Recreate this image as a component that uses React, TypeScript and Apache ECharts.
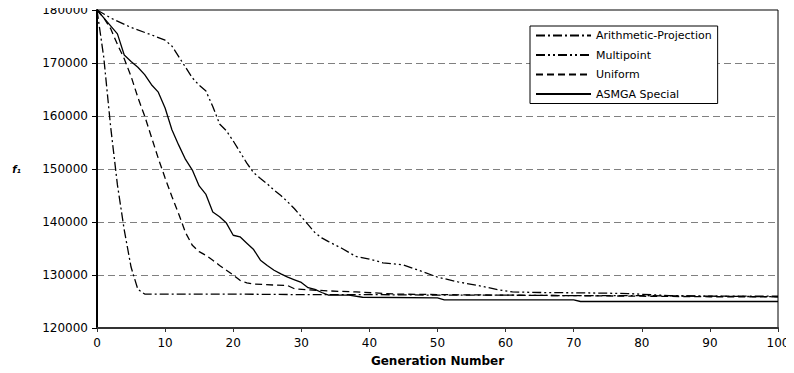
import React, { useEffect, useRef } from "react";
import * as echarts from "echarts";

const seriesNames = ["Arithmetic-Projection", "Multipoint", "Uniform", "ASMGA Special"];

const xTicks = { min: 0, max: 100, interval: 10 };
const yTicks = { min: 120000, max: 180000, interval: 10000 };

const arithmeticProjection: [number, number][] = [
  [0, 180000], [1, 171000], [2, 158000], [3, 147000], [4, 138500], [5, 131500],
  [6, 127300], [7, 126400], [10, 126400], [20, 126400], [30, 126300], [40, 126300],
  [50, 126200], [60, 126200], [70, 126100], [80, 126100], [90, 126000], [100, 126000],
];

const multipoint: [number, number][] = [
  [0, 180000], [2, 178500], [5, 176700], [8, 175300], [10, 174300], [11, 173200],
  [12, 171200], [13, 169200], [14, 167200], [15, 165800], [16, 164700], [17, 161800],
  [18, 158500], [19, 157200], [20, 155300], [21, 153200], [22, 151100], [23, 149300],
  [24, 148200], [25, 147200], [26, 146000], [27, 145000], [28, 143800], [29, 142500],
  [30, 141000], [31, 139500], [32, 138000], [33, 137000], [34, 136300], [36, 135000],
  [38, 133500], [40, 133000], [42, 132300], [45, 131900], [47, 131000], [50, 129600],
  [53, 128700], [56, 128000], [59, 127200], [61, 126800], [65, 126700], [73, 126600],
  [78, 126500], [84, 126100], [90, 126000], [100, 125900],
];

const uniform: [number, number][] = [
  [0, 180000], [1, 178500], [2, 176500], [3, 173500], [4, 170800], [5, 167500],
  [6, 163500], [7, 160000], [8, 156000], [9, 152000], [10, 148300], [11, 144800],
  [12, 141500], [13, 138000], [14, 135600], [15, 134400], [16, 133700], [17, 132800],
  [18, 131800], [19, 130900], [20, 130000], [21, 129000], [22, 128500], [23, 128300],
  [26, 128100], [28, 128000], [29, 127400], [31, 127200], [34, 127000], [38, 126800],
  [44, 126400], [50, 126300], [60, 126200], [70, 126100], [80, 126000], [90, 125900],
  [100, 125900],
];

const asmgaSpecial: [number, number][] = [
  [0, 180000], [1, 178500], [2, 177000], [3, 175500], [4, 171500], [5, 170300],
  [6, 169200], [7, 167800], [8, 165900], [9, 164500], [10, 161500], [11, 157400],
  [12, 154500], [13, 151800], [14, 149800], [15, 146800], [16, 145200], [17, 141900],
  [18, 141000], [19, 139800], [20, 137500], [21, 137200], [22, 136000], [23, 134800],
  [24, 132800], [25, 131800], [26, 130900], [27, 130200], [28, 129600], [29, 129100],
  [30, 128600], [31, 127600], [32, 127300], [33, 126700], [34, 126200], [37, 126200],
  [39, 125800], [50, 125700], [51, 125300], [70, 125300], [71, 125000], [100, 125000],
];

const seriesData = [arithmeticProjection, multipoint, uniform, asmgaSpecial];
const dashTypes: any[] = [[9, 3, 2, 3], [9, 3, 2, 3, 2, 3], [7, 4], "solid"];

const FONT = "DejaVu Sans";

export default function App() {
  const ref = useRef<HTMLDivElement>(null);
  useEffect(() => {
    if (!ref.current) return;
    const chart = echarts.init(ref.current, null, { renderer: "svg" });
    chart.setOption({
      animation: false,
      backgroundColor: "#fff",
      grid: {
        left: 97, right: 16, top: 10, bottom: 45,
        show: true, borderColor: "#000", borderWidth: 1,
        backgroundColor: "transparent",
      },
      legend: {
        orient: "vertical",
        left: 530, top: 26,
        data: seriesNames,
        itemWidth: 55, itemHeight: 10, itemGap: 8.5,
        padding: [4, 6, 4, 5],
        borderColor: "#000", borderWidth: 1,
        backgroundColor: "#fff",
        itemStyle: { opacity: 0 },
        textStyle: { fontFamily: FONT, fontSize: 11, color: "#000" },
      },
      xAxis: {
        type: "value",
        min: xTicks.min, max: xTicks.max, interval: xTicks.interval,
        name: "Generation Number",
        nameLocation: "middle", nameGap: 27,
        nameTextStyle: { fontFamily: FONT, fontSize: 12, fontWeight: "bold", color: "#000" },
        axisLine: { show: true, onZero: false, lineStyle: { color: "#333", width: 2 } },
        axisTick: { show: true, length: 4, lineStyle: { color: "#333" } },
        axisLabel: { fontFamily: FONT, fontSize: 12, color: "#000", margin: 9, formatter: (v: number) => String(v) },
        splitLine: { show: false },
      },
      yAxis: {
        type: "value",
        min: yTicks.min, max: yTicks.max, interval: yTicks.interval,
        name: "f\u2081",
        nameLocation: "middle", nameGap: 76, nameRotate: 0,
        nameTextStyle: { fontFamily: FONT, fontSize: 10, fontWeight: "bold", fontStyle: "italic", color: "#000" },
        axisLine: { show: true, lineStyle: { color: "#000", width: 2 } },
        axisTick: { show: true, length: 5, lineStyle: { color: "#000" } },
        axisLabel: { fontFamily: FONT, fontSize: 12, color: "#000", margin: 9, formatter: (v: number) => String(v) },
        splitLine: { show: true, lineStyle: { color: "#808080", type: [7, 4], width: 1 } },
      },
      series: seriesNames.map((name, i) => ({
        name,
        type: "line",
        data: seriesData[i],
        symbol: "none",
        showSymbol: false,
        lineStyle: { color: "#000", width: 1.3, type: dashTypes[i] },
        itemStyle: { color: "#000" },
      })),
    });
    return () => chart.dispose();
  }, []);
  return <div ref={ref} style={{ width: 794, height: 373, margin: -8 }} />;
}
